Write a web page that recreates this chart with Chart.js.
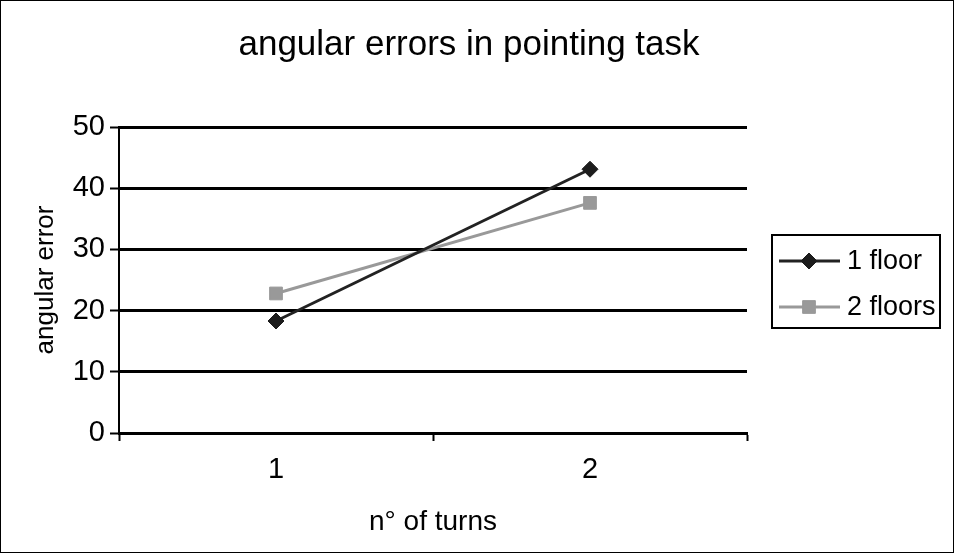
<!DOCTYPE html>
<html>
<head>
<meta charset="utf-8">
<title>angular errors in pointing task</title>
<script src="https://cdn.jsdelivr.net/npm/chart.js@4/dist/chart.umd.min.js"></script>
<style>
  html, body { margin: 0; padding: 0; background: #fff; }
  canvas { display: block; }
</style>
</head>
<body>
<canvas id="chart" width="954" height="553"></canvas>
<script>
// ─── Data ─────────────────────────────────────────────────────────
const categories = ["1", "2"];
const oneFloor = [18.3, 43.1];
const twoFloors = [22.8, 37.6];
const seriesNames = ["1 floor", "2 floors"];
const yMin = 0;
const yMax = 50;
const yStep = 10;

const FONT = "'Liberation Sans', Arial, sans-serif";

// ─── Frame, title and boxed legend ────────────────────────────────
const framePlugin = {
  id: "frame",
  beforeDraw(chart) {
    const { ctx, width, height } = chart;
    ctx.save();
    ctx.fillStyle = "#ffffff";
    ctx.fillRect(0, 0, width, height);
    ctx.restore();
  },
  afterDraw(chart) {
    const { ctx, width, height } = chart;
    ctx.save();

    // outer border
    ctx.strokeStyle = "#000";
    ctx.lineWidth = 1;
    ctx.strokeRect(0.5, 0.5, width - 1, height - 1);

    // title
    ctx.fillStyle = "#000";
    ctx.font = `35px ${FONT}`;
    ctx.textAlign = "center";
    ctx.textBaseline = "alphabetic";
    ctx.fillText("angular errors in pointing task", 469, 55);

    // legend box
    ctx.lineWidth = 2;
    ctx.strokeRect(772, 235, 168, 93);

    const rows = [261, 307];
    chart.data.datasets.forEach((ds, i) => {
      const y = rows[i];
      ctx.strokeStyle = ds.borderColor;
      ctx.lineWidth = ds.borderWidth;
      ctx.beginPath();
      ctx.moveTo(779, y);
      ctx.lineTo(840, y);
      ctx.stroke();

      ctx.fillStyle = ds.pointBackgroundColor;
      ctx.strokeStyle = ds.pointBorderColor;
      ctx.lineWidth = 1;
      Chart.helpers.drawPoint(ctx, {
        pointStyle: ds.pointStyle,
        radius: ds.pointRadius,
        rotation: 0,
        borderWidth: 1,
      }, 809, y);

      ctx.fillStyle = "#000";
      ctx.font = `27px ${FONT}`;
      ctx.textAlign = "left";
      ctx.textBaseline = "middle";
      ctx.fillText(ds.label, 847, y + 1);
    });

    ctx.restore();
  },
};

// ─── Chart ────────────────────────────────────────────────────────
new Chart(document.getElementById("chart"), {
  type: "line",
  data: {
    labels: categories,
    datasets: [
      {
        label: seriesNames[0],
        data: oneFloor,
        borderColor: "#222222",
        borderWidth: 3,
        pointStyle: "rectRot",
        pointRadius: 8,
        pointBackgroundColor: "#1c1c1c",
        pointBorderColor: "#1c1c1c",
        pointBorderWidth: 1,
        tension: 0,
      },
      {
        label: seriesNames[1],
        data: twoFloors,
        borderColor: "#999999",
        borderWidth: 3,
        pointStyle: "rect",
        pointRadius: 9,
        pointBackgroundColor: "#999999",
        pointBorderColor: "#999999",
        pointBorderWidth: 1,
        tension: 0,
      },
    ],
  },
  options: {
    responsive: false,
    animation: false,
    layout: { padding: { left: 0, top: 127, right: 207, bottom: 0 } },
    plugins: {
      legend: { display: false },
      title: { display: false },
      tooltip: { enabled: false },
    },
    scales: {
      x: {
        type: "category",
        offset: true,
        grid: {
          offset: true,
          drawOnChartArea: false,
          drawTicks: true,
          tickLength: 8,
          tickWidth: 2,
          tickColor: "#000",
        },
        border: { display: true, color: "#000", width: 3 },
        ticks: {
          color: "#000",
          font: { family: FONT, size: 29 },
          padding: 12,
          maxRotation: 0,
        },
        title: {
          display: true,
          text: "n° of turns",
          color: "#000",
          font: { family: FONT, size: 28 },
          padding: { top: 0, bottom: 14 },
        },
        afterFit(axis) {
          axis.height = 120;
        },
      },
      y: {
        min: yMin,
        max: yMax,
        ticks: {
          stepSize: yStep,
          color: "#000",
          font: { family: FONT, size: 29 },
          padding: 5,
        },
        grid: {
          color: "#000",
          lineWidth: 3,
          drawTicks: true,
          tickLength: 9,
          tickWidth: 2,
          tickColor: "#000",
        },
        border: { display: true, color: "#000", width: 2 },
        title: {
          display: true,
          text: "angular error",
          color: "#000",
          font: { family: FONT, size: 26 },
          padding: { top: 30, bottom: 0 },
        },
        afterFit(axis) {
          axis.width = 119;
        },
      },
    },
  },
  plugins: [framePlugin],
});
</script>
</body>
</html>
